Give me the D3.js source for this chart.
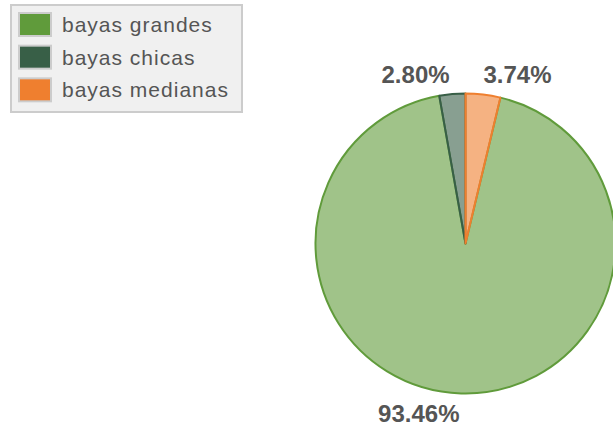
<!DOCTYPE html>
<html>
<head>
<meta charset="utf-8">
<script src="https://cdn.jsdelivr.net/npm/d3@7"></script>
<style>
  body { margin: 0; background: #fff; }
  svg { display: block; font-family: "Liberation Sans", Arial, sans-serif; }
</style>
</head>
<body>
<svg id="chart"></svg>
<script>
// data
const categories = ["bayas grandes", "bayas chicas", "bayas medianas"];
const percents = [93.46, 2.80, 3.74];
const colors = ["#609b3b", "#385f47", "#ef7f2f"];

const width = 613, height = 429;
const cx = 465.5, cy = 243.5, radius = 150;

const svg = d3.select("#chart")
  .attr("width", width)
  .attr("height", height);

// slices start after the orange one so it sits just right of 12 o'clock
const start = (percents[2] / d3.sum(percents)) * 2 * Math.PI;
const pie = d3.pie()
  .sort(null)
  .value(d => d.value)
  .startAngle(start)
  .endAngle(start + 2 * Math.PI);

const data = categories.map((c, i) => ({ name: c, value: percents[i], color: colors[i] }));
const arcs = pie(data);

const arc = d3.arc().innerRadius(0).outerRadius(radius);
const labelArc = d3.arc().innerRadius(170).outerRadius(170);

const g = svg.append("g")
  .attr("transform", "translate(" + cx + "," + cy + ")");

g.selectAll(".slice")
  .data(arcs)
  .enter()
  .append("path")
  .attr("class", "slice")
  .attr("d", arc)
  .attr("fill", d => d.data.color)
  .attr("fill-opacity", 0.6)
  .attr("stroke", d => d.data.color)
  .attr("stroke-width", 2)
  .attr("stroke-linejoin", "round");

// percentage labels
g.selectAll(".lbl")
  .data(arcs)
  .enter()
  .append("text")
  .attr("class", "lbl")
  .attr("x", d => {
    const x = labelArc.centroid(d)[0];
    return x < 0 ? x - 1 : x - 2;
  })
  .attr("y", d => labelArc.centroid(d)[1])
  .attr("dy", "0.35em")
  .attr("text-anchor", d => labelArc.centroid(d)[0] < 0 ? "end" : "start")
  .attr("font-size", 24)
  .attr("font-weight", "bold")
  .attr("fill", "#555")
  .text(d => d.data.value.toFixed(2) + "%");

// legend
const legend = svg.append("g");
legend.append("rect")
  .attr("x", 11)
  .attr("y", 5)
  .attr("width", 231)
  .attr("height", 107)
  .attr("fill", "#f0f0f0")
  .attr("stroke", "#cccccc")
  .attr("stroke-width", 2);

const rowY = d3.scaleBand()
  .domain(categories)
  .range([8, 106]);

const rows = legend.selectAll(".row")
  .data(data)
  .enter()
  .append("g")
  .attr("class", "row")
  .attr("transform", d => "translate(0," + rowY(d.name) + ")");

rows.append("rect")
  .attr("x", 19)
  .attr("y", 5)
  .attr("width", 32)
  .attr("height", 23)
  .attr("fill", d => d.color)
  .attr("stroke", "#cccccc")
  .attr("stroke-width", 2);

rows.append("text")
  .attr("x", 62)
  .attr("y", 24)
  .attr("font-size", 21)
  .attr("letter-spacing", 1)
  .attr("fill", "#555")
  .text(d => d.name);
</script>
</body>
</html>
